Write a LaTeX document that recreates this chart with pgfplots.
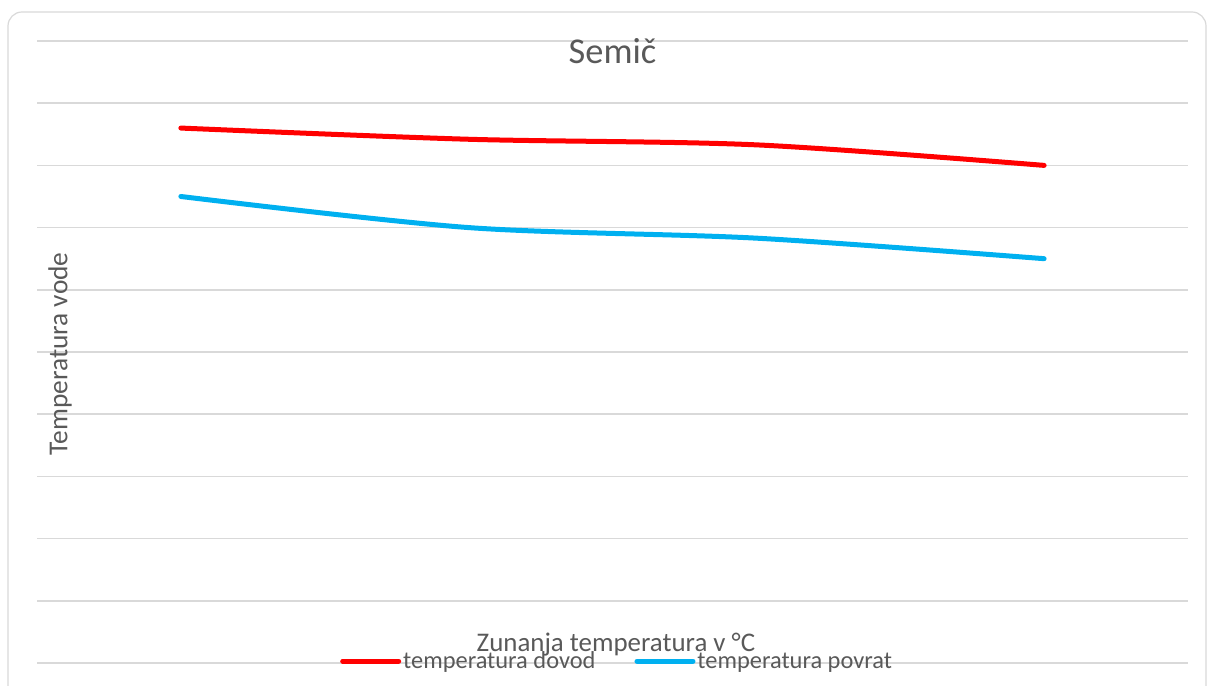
\documentclass[border=0pt]{standalone}
\usepackage{pgfplots}
\pgfplotsset{compat=1.18}
\usepackage{fontspec}
\setmainfont{Carlito}
\definecolor{txt}{HTML}{595959}
\definecolor{gridc}{HTML}{D9D9D9}
\definecolor{dovod}{HTML}{FF0000}
\definecolor{povrat}{HTML}{00B0F0}
\begin{document}
\begin{tikzpicture}[x=1bp,y=1bp]
\useasboundingbox (0,0) rectangle (1208,686);
\begin{scope}
\clip (0,0) rectangle (1208,686);
\draw[gridc, line width=1.2bp, rounded corners=14bp] (8,-20) rectangle (1206,674);
\end{scope}
\begin{axis}[
  at={(37bp,23bp)}, anchor=south west,
  scale only axis, width=1151bp, height=622bp,
  xmin=0.5, xmax=4.5, ymin=0, ymax=100,
  xtick=\empty, ytick={0,10,...,100}, yticklabels={},
  major tick length=0pt,
  ymajorgrids, grid style={gridc, line width=1.5bp},
  axis line style={draw=none},
  title={Semič},
  title style={at={(axis description cs:0.5,0.974)}, anchor=center, font=\fontsize{36.5}{40}\selectfont, text=txt},
  xlabel={Zunanja temperatura v °C},
  xlabel style={at={(axis description cs:0.503,0.029)}, anchor=center, font=\fontsize{27}{30}\selectfont, text=txt},
  ylabel={Temperatura vode},
  ylabel style={at={(axis description cs:0.02,0.497)}, anchor=center, rotate=0, font=\fontsize{27.5}{30}\selectfont, text=txt},
  legend columns=2,
  legend style={at={(axis description cs:0.504,0.003)}, anchor=center, draw=none, fill=none,
    font=\fontsize{24.5}{30}\selectfont, text=txt, inner sep=0pt,
    nodes={inner sep=2bp},
    /tikz/every even column/.append style={column sep=37bp}},
  legend image code/.code={\draw[#1, line width=5bp, line cap=round] (0bp,0bp) -- (56bp,0bp);},
  every axis plot/.append style={line width=5bp, line cap=round, smooth, tension=0.5},
]
\addplot[dovod] coordinates {(1,86) (2,84.2) (3,83.3) (4,80)};
\addlegendentry{temperatura dovod}
\addplot[povrat] coordinates {(1,75) (2,70) (3,68.3) (4,65)};
\addlegendentry{temperatura povrat}
\end{axis}
\end{tikzpicture}
\end{document}
